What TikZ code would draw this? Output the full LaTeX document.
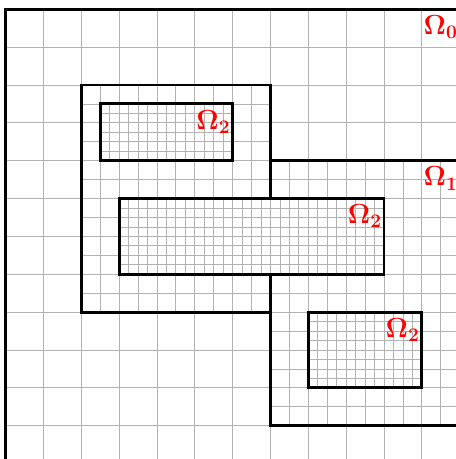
\documentclass[tikz,border=0pt]{standalone}
\usepackage{amsmath,bm}
\begin{document}
\begin{tikzpicture}[x=1cm,y=1cm,
  gridline/.style={draw=black!30, line width=0.6pt},
  bnd/.style={draw=black, line width=2.2pt},
  lab/.style={anchor=north east, inner sep=1.5pt, yshift=-3pt, text=red, font=\fontsize{22}{24}\selectfont}]
\useasboundingbox (-0.145,0.12) rectangle (11.90,12.246);
\clip (-0.145,0.12) rectangle (11.90,12.246);
% level 0
\draw[gridline, step=1] (0,0) grid (12,12);
% level 1
\draw[gridline, step=0.5] (2,4) grid (7,10);
\draw[gridline, step=0.5] (7,1) grid (12,8);
\draw[bnd] (0,0) rectangle (12,12);
\draw[bnd] (2,4) rectangle (7,10);
\draw[bnd] (7,1) rectangle (12,8);
% level 2
\fill[white] (2.5,8) rectangle (6,9.5);
\fill[white] (3,5) rectangle (10,7);
\fill[white] (8,2) rectangle (11,4);
\draw[gridline, step=0.25] (2.5,8) grid (6,9.5);
\draw[gridline, step=0.25] (3,5) grid (10,7);
\draw[gridline, step=0.25] (8,2) grid (11,4);
\draw[bnd] (2.5,8) rectangle (6,9.5);
\draw[bnd] (3,5) rectangle (10,7);
\draw[bnd] (8,2) rectangle (11,4);
% labels
\coordinate (c0) at (12,12);
\coordinate (c1) at (12,8);
\coordinate (ca) at (6,9.5);
\coordinate (cb) at (10,7);
\coordinate (cc) at (11,4);
\node[lab] (l0) at (c0) {$\bm{\Omega_0}$};
\node[lab] (l1) at (c1) {$\bm{\Omega_1}$};
\node[lab] (la) at (ca) {$\bm{\Omega_2}$};
\node[lab] (lb) at (cb) {$\bm{\Omega_2}$};
\node[lab] (lc) at (cc) {$\bm{\Omega_2}$};
\end{tikzpicture}
\end{document}
